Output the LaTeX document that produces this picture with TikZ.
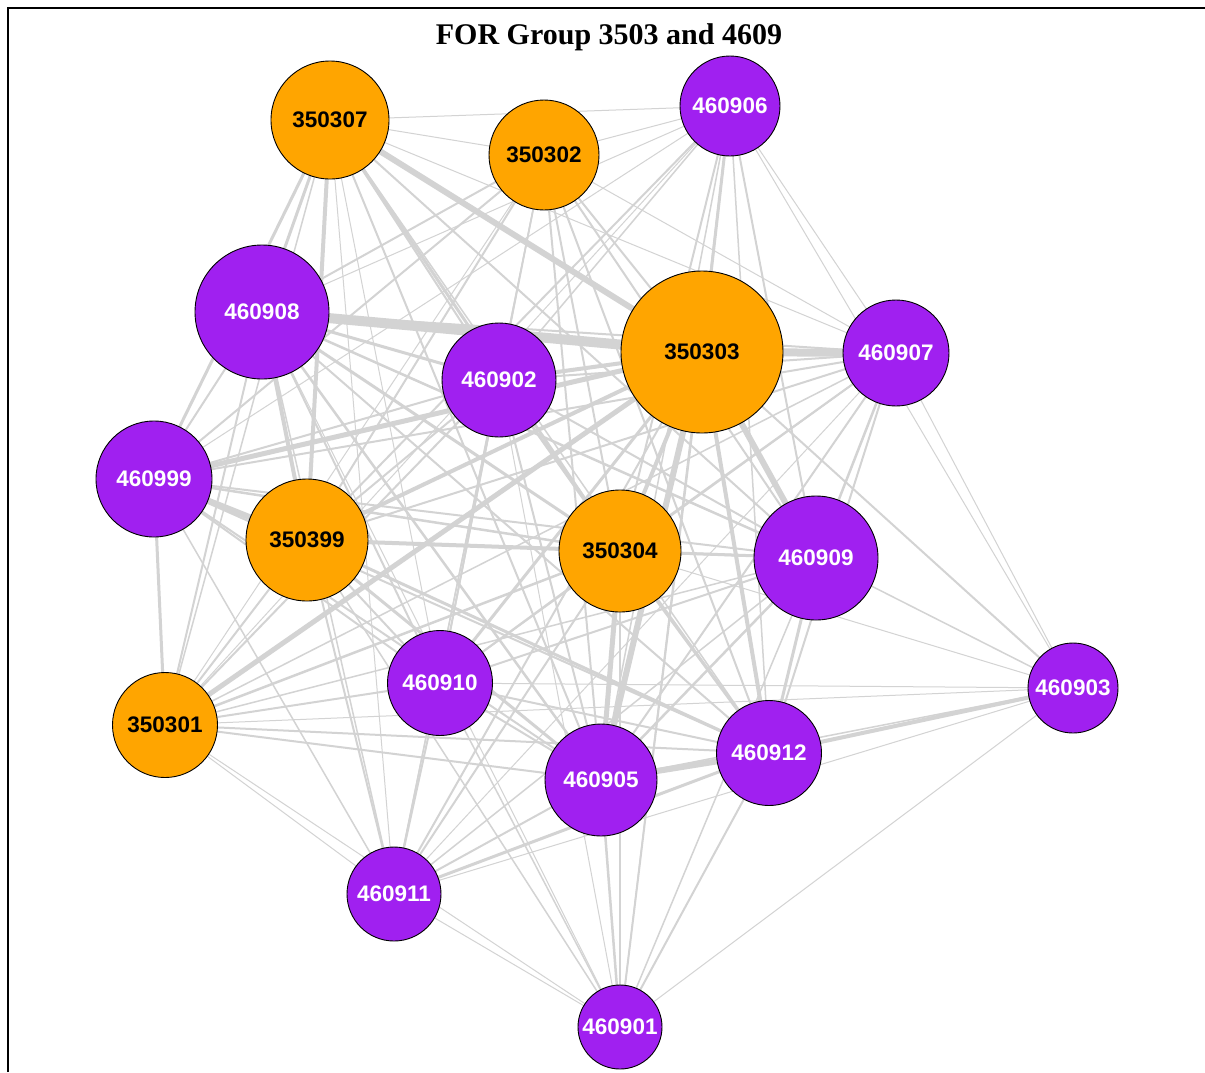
\documentclass[tikz,border=0pt]{standalone}
\usepackage{fontspec}
\newfontfamily\labfont{Liberation Sans}
\newfontfamily\ttlfont{Liberation Serif}
\definecolor{orng}{HTML}{FFA500}
\definecolor{purp}{HTML}{A020F0}
\definecolor{edgegray}{HTML}{D3D3D3}
\pgfdeclarelayer{bg}
\pgfdeclarelayer{edgelayer}
\pgfsetlayers{bg,edgelayer,main}
\begin{document}
\begin{tikzpicture}[x=1pt,y=-1pt,
  vtx/.style={circle, draw=black, line width=0.9pt, inner sep=0pt,
    font=\labfont\bfseries\fontsize{22.5}{22.5}\selectfont},
  orangev/.style={vtx, fill=orng, text=black},
  purplev/.style={vtx, fill=purp, text=white},
  link/.style={draw=edgegray}]
\begin{pgfonlayer}{bg}
\fill[white] (0,0) rectangle (1205,1072);
\end{pgfonlayer}
\useasboundingbox (0,0) rectangle (1205,1072);
\draw[line width=2.5pt] (8,1072) -- (8,8) -- (1205,8);
\node[font=\ttlfont\bfseries\fontsize{30}{30}\selectfont] (title) at (609,37) {FOR Group 3503 and 4609};

\node[orangev, minimum size=118pt] (v350307) at (330,120) {350307};
\node[orangev, minimum size=110pt] (v350302) at (544,155) {350302};
\node[purplev, minimum size=100pt] (v460906) at (730,106) {460906};
\node[purplev, minimum size=134pt] (v460908) at (262,312) {460908};
\node[purplev, minimum size=114pt] (v460902) at (499,380) {460902};
\node[orangev, minimum size=162pt] (v350303) at (702,352) {350303};
\node[purplev, minimum size=106pt] (v460907) at (896,353) {460907};
\node[purplev, minimum size=116pt] (v460999) at (154,479) {460999};
\node[orangev, minimum size=122pt] (v350399) at (307,540) {350399};
\node[orangev, minimum size=122pt] (v350304) at (620,551) {350304};
\node[purplev, minimum size=124pt] (v460909) at (816,558) {460909};
\node[purplev, minimum size=90pt] (v460903) at (1073,688) {460903};
\node[orangev, minimum size=105pt] (v350301) at (165,725) {350301};
\node[purplev, minimum size=105pt] (v460910) at (440,683) {460910};
\node[purplev, minimum size=112pt] (v460905) at (601,780) {460905};
\node[purplev, minimum size=105pt] (v460912) at (769,753) {460912};
\node[purplev, minimum size=94pt] (v460911) at (394,894) {460911};
\node[purplev, minimum size=84pt] (v460901) at (620,1027) {460901};

\begin{pgfonlayer}{edgelayer}
\foreach \u/\v/\w in {
 350307/350302/1, 350307/460906/1, 350307/460908/3, 350307/460902/2, 350307/350303/6,
 350307/460907/1, 350307/460999/3, 350307/350399/4, 350307/350304/3, 350307/460909/2,
 350307/350301/1.5, 350307/460910/1, 350307/460905/2, 350307/460912/1.5, 350307/460911/1,
 350302/460906/1, 350302/460908/2, 350302/460902/1.5, 350302/350303/2, 350302/460907/1,
 350302/460999/2, 350302/350399/2, 350302/350304/2, 350302/460909/2, 350302/350301/1,
 350302/460910/1.5, 350302/460905/2, 350302/460912/2, 350302/460911/1,
 460906/460908/1, 460906/460902/1.5, 460906/350303/3, 460906/460907/1, 460906/460999/1,
 460906/350399/2, 460906/350304/2, 460906/460909/2, 460906/460903/1, 460906/350301/1,
 460906/460905/1.5, 460906/460912/1.5, 460906/460901/1,
 460908/460902/3, 460908/350303/10, 460908/460907/2, 460908/460999/2, 460908/350399/4,
 460908/350304/3, 460908/460909/2.5, 460908/350301/2, 460908/460910/2, 460908/460905/2.5,
 460908/460912/2, 460908/460911/1.5, 460908/460901/1,
 460902/350303/4, 460902/460907/2, 460902/460999/2, 460902/350399/2, 460902/350304/2,
 460902/460909/2, 460902/350301/2, 460902/460910/2, 460902/460905/2, 460902/460912/2,
 460902/460911/1.5, 460902/460901/1,
 350303/460907/8, 350303/460999/5, 350303/350399/4, 350303/350304/4, 350303/460909/6,
 350303/460903/2, 350303/350301/5, 350303/460910/3, 350303/460905/6, 350303/460912/4,
 350303/460911/2, 350303/460901/2,
 460907/460999/2, 460907/350399/2, 460907/350304/2, 460907/460909/2.5, 460907/460903/1,
 460907/350301/1.5, 460907/460910/1.5, 460907/460905/2, 460907/460912/2, 460907/460911/1,
 460999/350399/6, 460999/350304/2.5, 460999/460909/2, 460999/350301/3, 460999/460910/2,
 460999/460905/2, 460999/460912/2, 460999/460911/1.5,
 350399/350304/4, 350399/460909/2.5, 350399/350301/2, 350399/460910/2, 350399/460905/3,
 350399/460912/3, 350399/460911/2, 350399/460901/1.5,
 350304/460909/3, 350304/460903/1, 350304/350301/2.5, 350304/460910/2, 350304/460905/5,
 350304/460912/2.5, 350304/460911/2, 350304/460901/2,
 460909/460903/1.5, 460909/350301/1.5, 460909/460910/2, 460909/460905/2.5, 460909/460912/3,
 460909/460911/1.5, 460909/460901/1.5,
 460903/350301/1, 460903/460910/1, 460903/460905/1.5, 460903/460912/4, 460903/460911/1,
 460903/460901/1,
 350301/460910/2, 350301/460905/2, 350301/460912/2, 350301/460911/1, 350301/460901/1,
 460910/460905/2, 460910/460912/2, 460910/460911/2, 460910/460901/1.5,
 460905/460912/6, 460905/460911/2, 460905/460901/2.5,
 460912/460911/3, 460912/460901/2, 460911/460901/1}
 {\draw[link, line width=\w pt] (v\u.center) -- (v\v.center);}
\end{pgfonlayer}
\end{tikzpicture}
\end{document}
